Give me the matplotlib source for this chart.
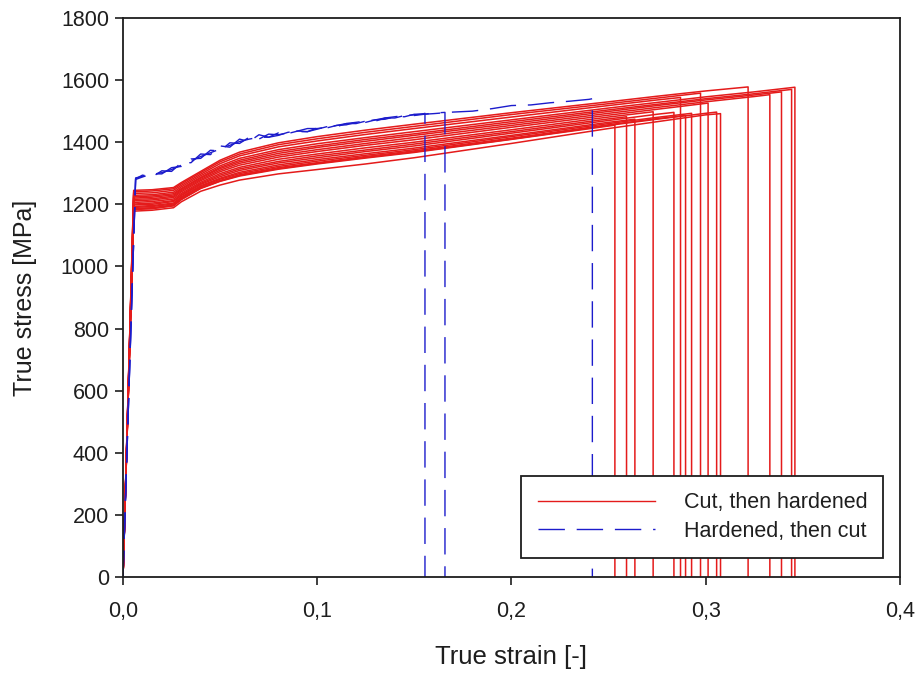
import matplotlib
matplotlib.use("Agg")
import matplotlib.pyplot as plt
from matplotlib.lines import Line2D

plt.rcParams['font.family'] = ['Liberation Sans', 'DejaVu Sans']

# red curves: "Cut, then hardened"
red_strain = [0.0, 0.0055, 0.015, 0.026, 0.03, 0.04, 0.05, 0.06, 0.08, 0.1,
              0.125, 0.15, 0.2, 0.25, 0.275, 0.3, 0.325]
red_stress = [
    [0, 1183, 1186, 1195, 1215, 1251, 1274, 1291, 1313, 1330, 1349, 1367, 1409, 1452],
    [0, 1201, 1204, 1212, 1231, 1267, 1294, 1314, 1338, 1356, 1375, 1394, 1434, 1475],
    [0, 1193, 1196, 1204, 1224, 1260, 1284, 1303, 1327, 1344, 1363, 1381, 1422, 1464],
    [0, 1206, 1209, 1217, 1235, 1271, 1299, 1319, 1345, 1362, 1382, 1400, 1440, 1481],
    [0, 1198, 1200, 1209, 1228, 1264, 1289, 1309, 1333, 1350, 1370, 1388, 1429, 1470, 1490],
    [0, 1235, 1237, 1245, 1261, 1297, 1331, 1356, 1385, 1404, 1425, 1444, 1481, 1518, 1536],
    [0, 1187, 1189, 1198, 1218, 1254, 1277, 1295, 1318, 1334, 1354, 1372, 1413, 1456, 1476],
    [0, 1190, 1193, 1201, 1221, 1257, 1281, 1299, 1322, 1339, 1358, 1376, 1418, 1460, 1480],
    [0, 1240, 1243, 1250, 1266, 1302, 1337, 1362, 1392, 1411, 1432, 1451, 1489, 1524, 1542],
    [0, 1211, 1214, 1222, 1240, 1276, 1305, 1326, 1352, 1370, 1390, 1408, 1448, 1487, 1506, 1525],
    [0, 1185, 1187, 1196, 1216, 1252, 1275, 1293, 1315, 1332, 1351, 1369, 1410, 1454, 1474, 1493],
    [0, 1178, 1181, 1189, 1208, 1242, 1262, 1278, 1298, 1312, 1330, 1350, 1396, 1444, 1466, 1488],
    [0, 1245, 1247, 1254, 1270, 1306, 1342, 1368, 1398, 1418, 1439, 1458, 1495, 1530, 1548, 1565],
    [0, 1216, 1218, 1226, 1244, 1280, 1310, 1332, 1358, 1376, 1396, 1415, 1454, 1493, 1512, 1530, 1547],
    [0, 1220, 1223, 1230, 1248, 1284, 1315, 1337, 1364, 1383, 1403, 1422, 1460, 1499, 1518, 1536, 1552],
    [0, 1224, 1227, 1234, 1251, 1287, 1319, 1342, 1370, 1388, 1409, 1427, 1466, 1504, 1522, 1540, 1556],
    [0, 1229, 1231, 1239, 1256, 1292, 1324, 1348, 1376, 1395, 1415, 1434, 1472, 1510, 1528, 1546, 1562],
]
red_end_strain = [0.2533, 0.2593, 0.2636, 0.2730, 0.2837, 0.2871, 0.2897, 0.2928, 0.2974,
                  0.3013, 0.3057, 0.3077, 0.3219, 0.3331, 0.3391, 0.3443, 0.3460]
red_end_stress = [1455, 1482, 1474, 1498, 1496, 1544, 1486, 1493, 1558,
                  1526, 1497, 1492, 1578, 1553, 1562, 1570, 1577]

# blue curves: "Hardened, then cut"
blue_strain = [0.0, 0.0065, 0.01, 0.015, 0.02, 0.025, 0.03, 0.035, 0.04, 0.045, 0.05,
               0.055, 0.06, 0.065, 0.07, 0.075, 0.08, 0.085, 0.09, 0.095, 0.1,
               0.105, 0.11, 0.115, 0.12, 0.125, 0.13, 0.135, 0.14, 0.145, 0.15,
               0.155, 0.16, 0.17, 0.18, 0.19, 0.2, 0.21, 0.22, 0.23, 0.24]
blue_stress = [
    [0, 1280, 1288, 1298, 1298, 1318, 1322, 1346, 1348, 1374, 1372,
     1398, 1396, 1416, 1410, 1426, 1424, 1430, 1436, 1444, 1444,
     1448, 1454, 1460, 1464, 1468, 1472, 1478, 1482, 1486, 1488,
     1492],
    [0, 1282, 1294, 1288, 1308, 1306, 1334, 1334, 1362, 1360, 1388,
     1384, 1410, 1402, 1424, 1416, 1430, 1428, 1436, 1434, 1446,
     1446, 1454, 1456, 1464, 1464, 1472, 1474, 1482, 1482, 1490,
     1490, 1494],
    [0, 1285, 1290, 1296, 1302, 1312, 1326, 1340, 1354, 1366, 1378,
     1390, 1402, 1410, 1416, 1416, 1422, 1432, 1434, 1434, 1442,
     1450, 1450, 1460, 1460, 1468, 1468, 1478, 1478, 1486, 1486,
     1490, 1492, 1497, 1500, 1508, 1518, 1520, 1527, 1532, 1538],
]
blue_end_strain = [0.1555, 0.1658, 0.2417]
blue_end_stress = [1493, 1496, 1540]

red_col = '#e41b1b'
blue_col = '#1c1ccc'
ink = '#1e1e1e'
dash = (19, 8.5)

fig = plt.figure(figsize=(9.2, 6.73), dpi=100)
ax = fig.add_axes([0.1337, 0.1426, 0.8443, 0.8307])

for i in range(len(red_stress)):
    n = len(red_stress[i])
    x = red_strain[:n] + [red_end_strain[i], red_end_strain[i]]
    y = red_stress[i] + [red_end_stress[i], 0]
    ax.plot(x, y, color=red_col, lw=1.1)

for i in range(len(blue_stress)):
    n = len(blue_stress[i])
    x = blue_strain[:n] + [blue_end_strain[i], blue_end_strain[i]]
    y = blue_stress[i] + [blue_end_stress[i], 0]
    ax.plot(x, y, color=blue_col, lw=1.0, dashes=dash)

ax.set_xlim(0, 0.4)
ax.set_ylim(0, 1800)
ax.set_xticks([0, 0.1, 0.2, 0.3, 0.4])
ax.set_xticklabels(['0,0', '0,1', '0,2', '0,3', '0,4'])
ax.set_yticks(range(0, 1801, 200))
ax.tick_params(direction='out', length=6, width=1.2, labelsize=15.5, colors=ink)
ax.tick_params(axis='x', pad=11)
ax.tick_params(axis='y', pad=4)
for s in ax.spines.values():
    s.set_linewidth(1.3)
    s.set_color(ink)

ax.set_xlabel('True strain [-]', fontsize=18.5, labelpad=17, color=ink)
ax.set_ylabel('True stress [MPa]', fontsize=18, labelpad=17, color=ink)

handles = [Line2D([], [], color=red_col, lw=1.0),
           Line2D([], [], color=blue_col, lw=1.0, dashes=dash)]
leg = ax.legend(handles, ['Cut, then hardened', 'Hardened, then cut'],
                loc='lower left', bbox_to_anchor=(0.513, 0.034, 0.465, 0.147),
                mode='expand', borderaxespad=0, fontsize=15.5, handlelength=5.45,
                handletextpad=1.35, labelspacing=0.35, fancybox=False,
                borderpad=0.76, framealpha=1)
leg.get_frame().set_edgecolor(ink)
leg.get_frame().set_linewidth(1.3)
for t in leg.get_texts():
    t.set_color(ink)

fig.savefig('out.png', dpi=100)
